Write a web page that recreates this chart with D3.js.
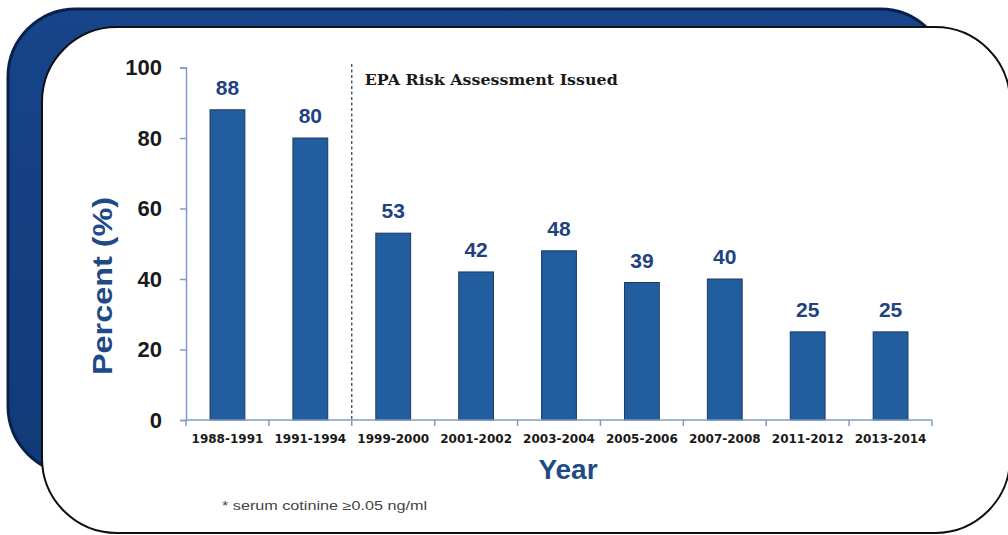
<!DOCTYPE html>
<html>
<head>
<meta charset="utf-8">
<script src="https://cdn.jsdelivr.net/npm/d3@7"></script>
<style>
  html, body { margin: 0; padding: 0; background: #ffffff; }
  svg { display: block; }
</style>
</head>
<body>
<svg id="chart" width="1008" height="535"></svg>
<script>
const categories = ["1988-1991", "1991-1994", "1999-2000", "2001-2002", "2003-2004", "2005-2006", "2007-2008", "2011-2012", "2013-2014"];
const values = [88, 80, 53, 42, 48, 39, 40, 25, 25];
const yTicks = [0, 20, 40, 60, 80, 100];
const annotation = "EPA Risk Assessment Issued";
const annotationAfter = "1991-1994";
const xTitle = "Year";
const yTitle = "Percent (%)";
const footnote = "* serum cotinine  \u22650.05 ng/ml";

const svg = d3.select("#chart");
const defs = svg.append("defs");
const grad = defs.append("linearGradient").attr("id", "blueGrad")
  .attr("x1", "0").attr("y1", "0").attr("x2", "0").attr("y2", "1");
grad.append("stop").attr("offset", "0").attr("stop-color", "#17448a");
grad.append("stop").attr("offset", "1").attr("stop-color", "#113a78");

// background frames
svg.append("rect").attr("x", 8).attr("y", 9).attr("width", 940).attr("height", 465)
  .attr("rx", 68).attr("ry", 68).attr("fill", "url(#blueGrad)")
  .attr("stroke", "#08214a").attr("stroke-width", 3);
svg.append("rect").attr("x", 42).attr("y", 27).attr("width", 968).attr("height", 506)
  .attr("rx", 75).attr("ry", 75).attr("fill", "#ffffff")
  .attr("stroke", "#111111").attr("stroke-width", 2);

const x = d3.scaleBand().domain(categories).range([186, 932]).paddingInner(0.58).paddingOuter(0.29);
const xb = d3.scaleBand().domain(categories).range([186, 932]);
const y = d3.scaleLinear().domain([0, 100]).range([420, 67.5]);

// bars
svg.append("g").selectAll("rect").data(values).join("rect")
  .attr("x", (d, i) => x(categories[i]))
  .attr("y", d => y(d))
  .attr("width", x.bandwidth())
  .attr("height", d => y(0) - y(d))
  .attr("fill", "#225d9f")
  .attr("stroke", "#1a3a66").attr("stroke-width", 1);

// value labels
svg.append("g").selectAll("text").data(values).join("text")
  .attr("x", (d, i) => x(categories[i]) + x.bandwidth() / 2)
  .attr("y", d => y(d) - 15)
  .attr("text-anchor", "middle")
  .attr("font-family", "Liberation Sans, Arial, sans-serif")
  .attr("font-weight", "bold")
  .attr("font-size", 21)
  .attr("fill", "#21427f")
  .text(d => d);

// y axis
const yAxis = svg.append("g").attr("transform", "translate(186,0)")
  .call(d3.axisLeft(y).tickValues(yTicks).tickSize(6).tickPadding(18).tickSizeOuter(6));
yAxis.selectAll("path, line").attr("stroke", "#7f9cc4").attr("stroke-width", 1.5);
yAxis.selectAll("text").attr("font-family", "Liberation Sans, Arial, sans-serif")
  .attr("font-weight", "bold").attr("font-size", 22).attr("fill", "#1a1a1a");

// x axis
const xAxis = svg.append("g").attr("transform", "translate(0,420)")
  .call(d3.axisBottom(xb).tickSize(0).tickPadding(14));
xAxis.select("path").attr("stroke", "#7f9cc4").attr("stroke-width", 1.5)
  .attr("d", "M186,0H932");
xAxis.selectAll("text").attr("font-family", "DejaVu Sans, sans-serif")
  .attr("font-weight", "bold").attr("font-size", 12).attr("fill", "#1a1a1a");
// boundary ticks
const bounds = categories.map(c => xb(c)).concat([932]);
xAxis.append("g").selectAll("line").data(bounds).join("line")
  .attr("x1", d => d).attr("x2", d => d).attr("y1", 0).attr("y2", 6)
  .attr("stroke", "#7f9cc4").attr("stroke-width", 1.5);

// dashed annotation line
const lx = xb(annotationAfter) + xb.bandwidth();
svg.append("line").attr("x1", lx).attr("x2", lx).attr("y1", 64).attr("y2", 420)
  .attr("stroke", "#333333").attr("stroke-width", 1.2).attr("stroke-dasharray", "3,2.5");
svg.append("text").attr("x", lx + 13).attr("y", 85)
  .attr("font-family", "DejaVu Serif, serif").attr("font-weight", "bold")
  .attr("font-size", 14).attr("fill", "#1a1a1a")
  .attr("textLength", 253).attr("lengthAdjust", "spacingAndGlyphs")
  .text(annotation);

// titles
svg.append("text").attr("x", 568).attr("y", 479).attr("text-anchor", "middle")
  .attr("font-family", "Liberation Sans, Arial, sans-serif").attr("font-weight", "bold")
  .attr("font-size", 28).attr("fill", "#1e4b87").text(xTitle);
svg.append("text").attr("transform", "translate(112,286) rotate(-90)").attr("text-anchor", "middle")
  .attr("font-family", "Liberation Sans, Arial, sans-serif").attr("font-weight", "bold")
  .attr("font-size", 28).attr("fill", "#1e4b87")
  .attr("textLength", 178).attr("lengthAdjust", "spacingAndGlyphs")
  .text(yTitle);

// footnote
svg.append("text").attr("x", 222).attr("y", 510)
  .attr("font-family", "Liberation Sans, Arial, sans-serif")
  .attr("font-size", 12.5).attr("fill", "#444444")
  .attr("textLength", 205).attr("lengthAdjust", "spacingAndGlyphs")
  .text(footnote);
</script>
</body>
</html>
